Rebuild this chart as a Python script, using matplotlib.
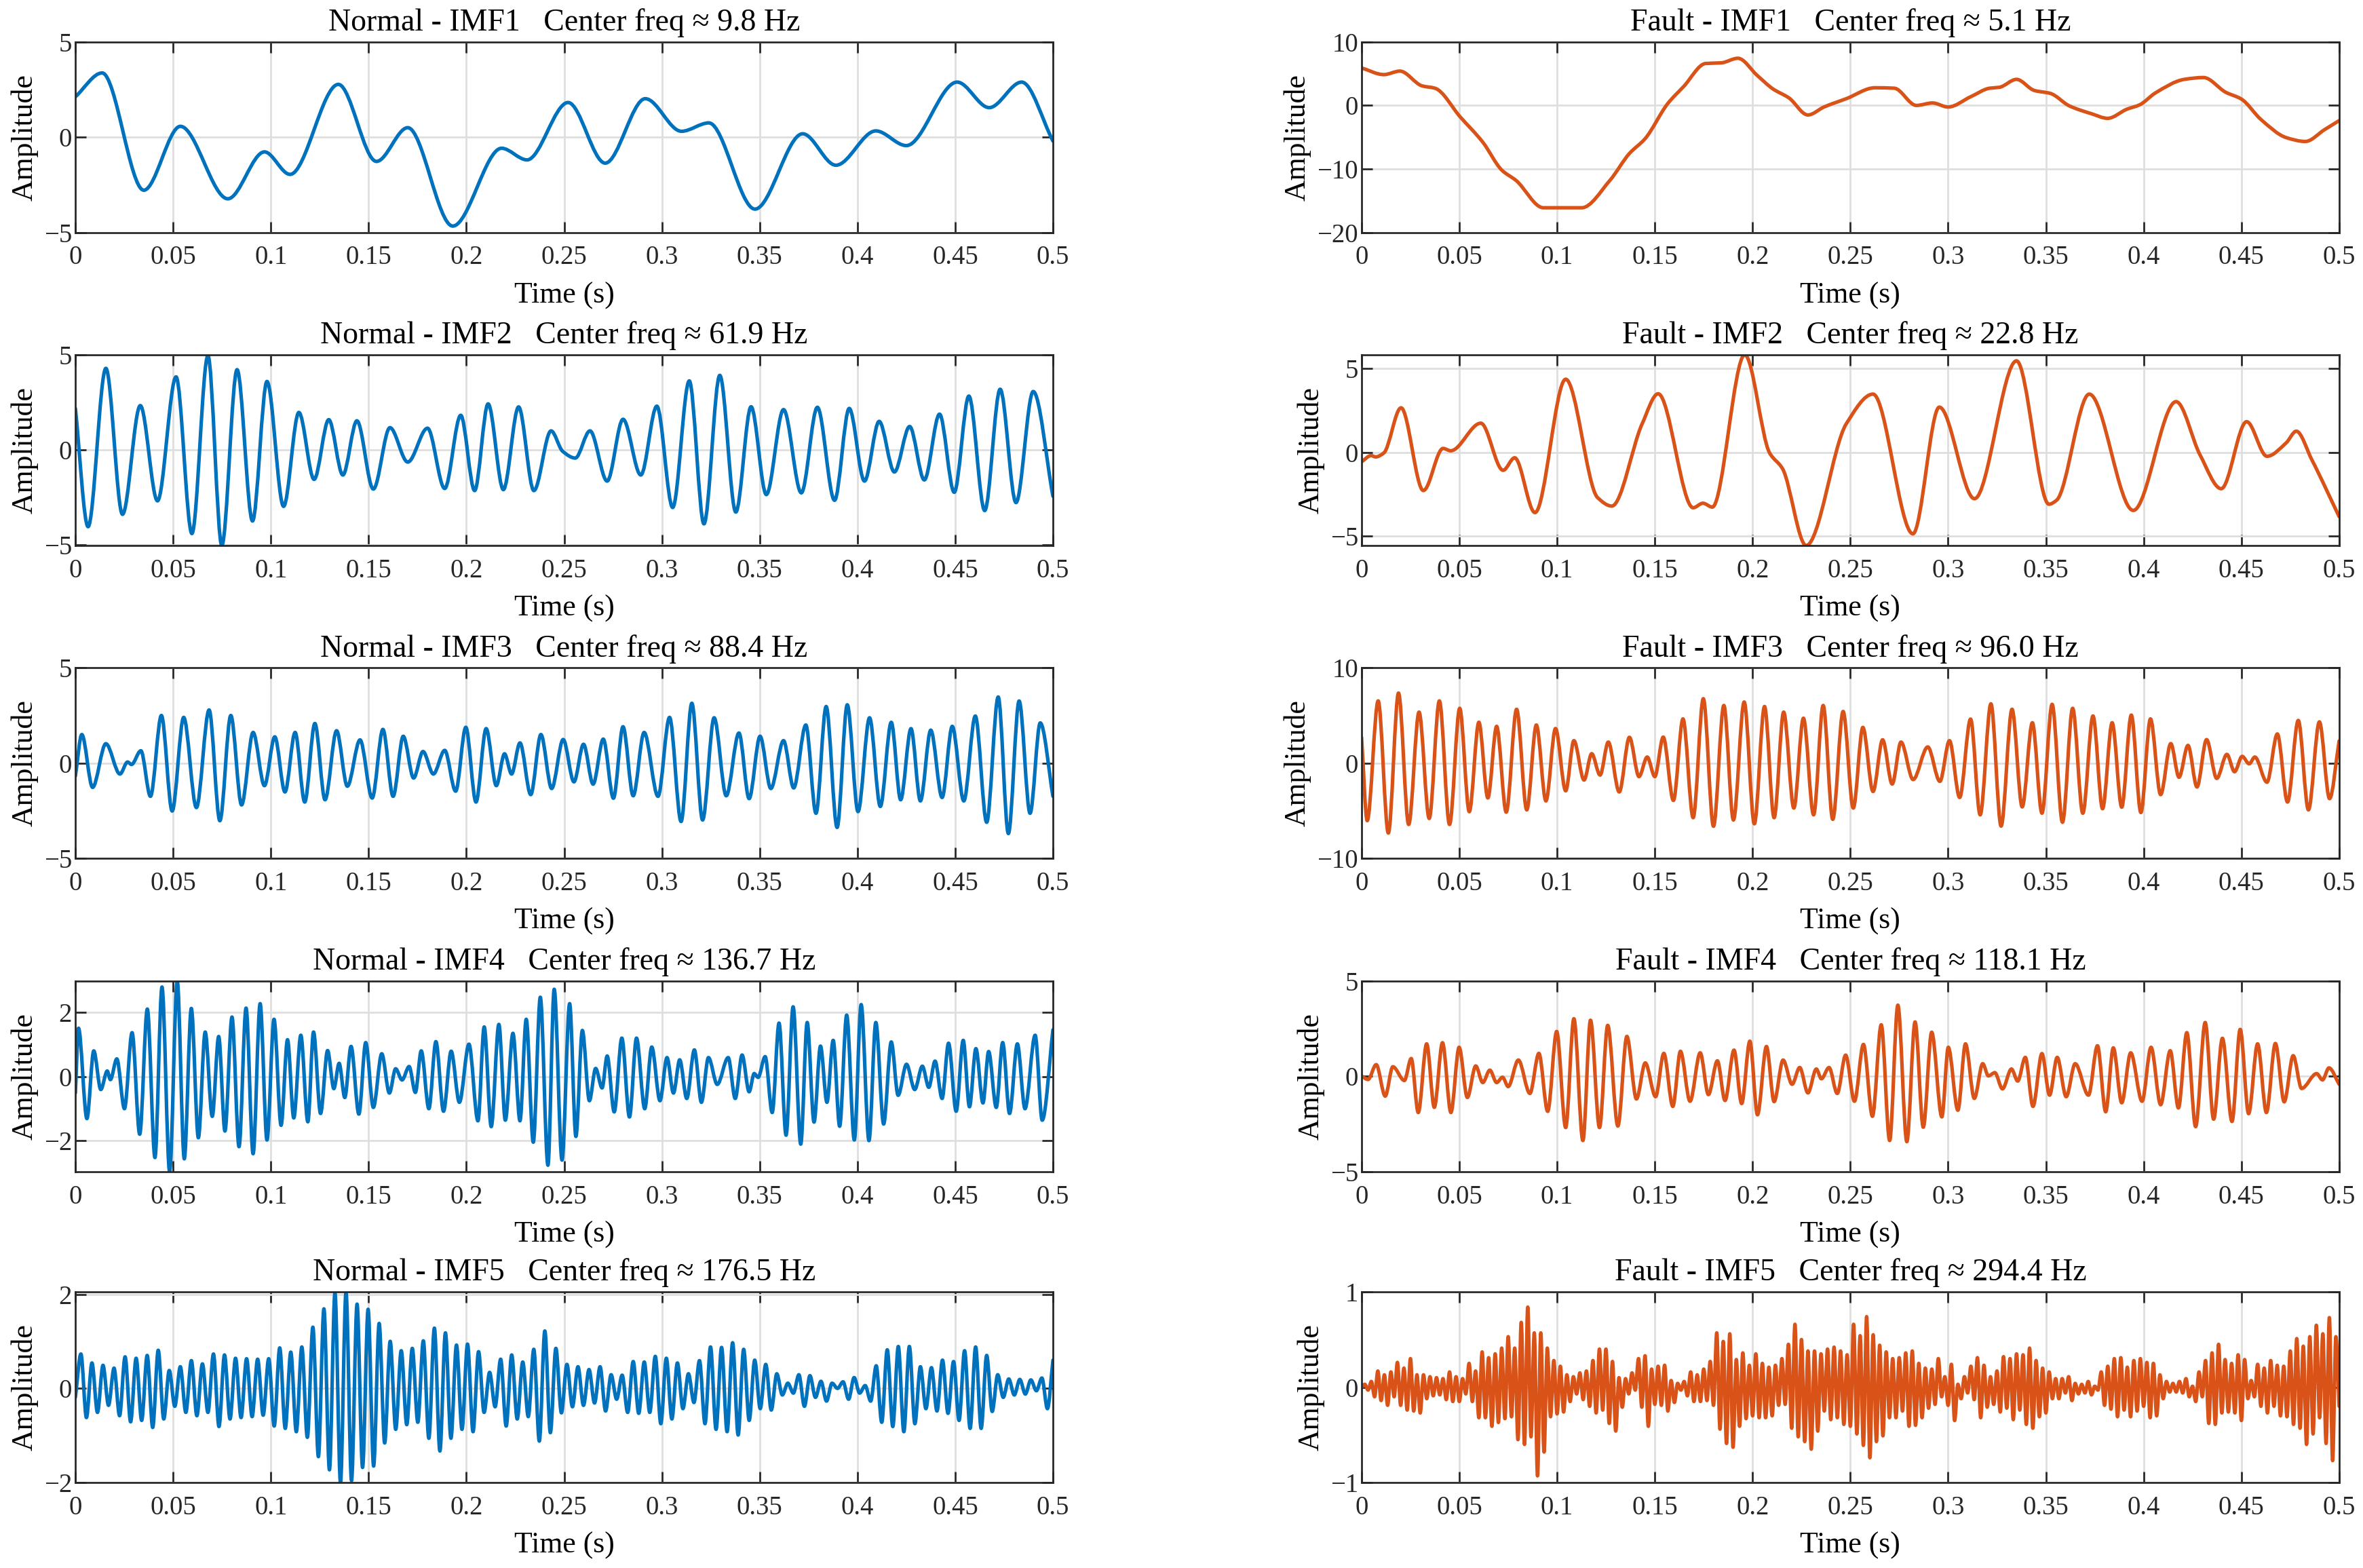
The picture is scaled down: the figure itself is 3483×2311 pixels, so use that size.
"""VMD decomposition figure: IMF1-IMF5 of normal vs fault signals."""

import numpy as np
import matplotlib
matplotlib.use("Agg")
import matplotlib.pyplot as plt
from matplotlib.path import Path
from matplotlib.patches import PathPatch

plt.rcParams["font.family"] = ["Liberation Serif", "DejaVu Serif"]
plt.rcParams["axes.unicode_minus"] = True

# Waveform extrema: (time [s], amplitude) pairs per IMF
n1_t = [0, 0.0137, 0.035, 0.0537, 0.078, 0.0967, 0.1098, 0.1345, 0.154, 0.170, 0.193, 0.218, 0.231, 0.252,
        0.271, 0.2915, 0.310, 0.324, 0.3476, 0.372, 0.389, 0.4094, 0.425, 0.451, 0.4674, 0.484, 0.5]
n1_v = [2.12, 3.37, -2.78, 0.57, -3.23, -0.77, -1.95, 2.77, -1.27, 0.50, -4.66, -0.58, -1.19, 1.82,
        -1.36, 2.02, 0.31, 0.75, -3.77, 0.18, -1.47, 0.33, -0.44, 2.89, 1.55, 2.89, -0.2]

f1_t = [0, 0.0114, 0.0196, 0.031, 0.0375, 0.0506, 0.062, 0.0718, 0.079, 0.093, 0.1126, 0.127, 0.137, 0.145,
        0.1566, 0.1647, 0.176, 0.184, 0.1925, 0.2023, 0.2104, 0.2186, 0.2283, 0.2365, 0.248, 0.2626, 0.2724,
        0.2838, 0.292, 0.300, 0.3115, 0.3213, 0.3262, 0.335, 0.3441, 0.3523, 0.362, 0.3735, 0.3816, 0.3914,
        0.398, 0.406, 0.4208, 0.4306, 0.442, 0.450, 0.460, 0.473, 0.4827, 0.4925, 0.5]
f1_v = [5.9, 4.85, 5.4, 3.07, 2.71, -1.86, -5.78, -10.2, -11.8, -16.1, -16.1, -11.8, -7.56, -5.24,
        0.29, 2.96, 6.6, 6.7, 7.42, 4.74, 2.6, 1.18, -1.5, -0.25, 1.07, 2.78, 2.71,
        0.0, 0.39, -0.25, 1.36, 2.71, 2.85, 4.1, 2.35, 1.89, -0.07, -1.32, -2.03, -0.6,
        0.1, 1.96, 4.1, 4.39, 2.07, 1.0, -2.21, -5.07, -5.67, -3.82, -2.39]

n2_t = [0, 0.0065, 0.0156, 0.0241, 0.0332, 0.0420, 0.0515, 0.0596, 0.0678, 0.0749, 0.0827, 0.0906, 0.0980,
        0.1065, 0.1143, 0.1221, 0.1296, 0.1368, 0.1440, 0.1524, 0.1609, 0.1700, 0.1801, 0.1889, 0.1971,
        0.2042, 0.2111, 0.2189, 0.2267, 0.2345, 0.2433, 0.2492, 0.2557, 0.2632, 0.2720, 0.2801, 0.2892,
        0.2974, 0.3055, 0.3140, 0.3215, 0.3296, 0.3378, 0.3456, 0.3534, 0.3622, 0.3713, 0.3795, 0.3883,
        0.3958, 0.4036, 0.4111, 0.4189, 0.4267, 0.4342, 0.4420, 0.4495, 0.4570, 0.4651, 0.4730, 0.4811,
        0.4899, 0.5]
n2_v = [2.18, -4.04, 4.29, -3.39, 2.33, -2.68, 3.84, -4.40, 4.96, -5.03, 4.22, -3.74, 3.60,
        -2.97, 1.97, -1.55, 1.59, -1.32, 1.53, -2.06, 1.17, -0.64, 1.14, -2.03, 1.82,
        -2.14, 2.42, -2.09, 2.26, -2.14, 1.0, -0.07, -0.43, 1.0, -1.64, 1.61, -1.32,
        2.30, -3.03, 3.63, -3.89, 3.92, -3.27, 2.27, -2.35, 2.12, -2.26, 2.24, -2.65,
        2.18, -1.64, 1.50, -1.16, 1.23, -1.58, 1.88, -2.23, 2.83, -3.19, 3.19, -2.77,
        3.07, -2.44]

f2_t = [0, 0.0049, 0.0072, 0.0114, 0.0202, 0.0316, 0.0417, 0.0456, 0.061, 0.0724, 0.0783, 0.0887, 0.1044,
        0.1207, 0.128, 0.1435, 0.1517, 0.1696, 0.1746, 0.1794, 0.196, 0.2087, 0.2153, 0.2274, 0.2479,
        0.2616, 0.282, 0.2955, 0.3135, 0.335, 0.3516, 0.3555, 0.3722, 0.3947, 0.4166, 0.4289, 0.4397,
        0.4527, 0.4631, 0.4729, 0.4781, 0.486, 0.5]
f2_v = [-0.57, -0.2, -0.28, -0.04, 2.66, -2.29, 0.23, 0.09, 1.74, -1.08, -0.33, -3.61, 4.37,
        -2.71, -3.22, 1.70, 3.5, -3.32, -3.05, -3.28, 5.83, -0.04, -0.98, -5.58, 1.7,
        3.48, -4.88, 2.7, -2.78, 5.47, -3.11, -2.87, 3.48, -3.48, 3.03, -0.17, -2.18,
        1.83, -0.24, 0.56, 1.26, -0.44, -3.85]

n3_t = [0, 0.0033, 0.0088, 0.0156, 0.0228, 0.0267, 0.0287, 0.0335, 0.0384, 0.0440, 0.0495, 0.0554, 0.0619,
        0.0684, 0.0739, 0.0795, 0.0850, 0.0909, 0.0967, 0.1020, 0.1072, 0.1124, 0.1173, 0.1225, 0.1277,
        0.1336, 0.1391, 0.1456, 0.1518, 0.1573, 0.1625, 0.1677, 0.1730, 0.1778, 0.1831, 0.1889, 0.1945,
        0.1997, 0.2049, 0.2101, 0.2153, 0.2195, 0.2231, 0.2274, 0.2329, 0.2381, 0.2436, 0.2495, 0.2550,
        0.2599, 0.2648, 0.2700, 0.2752, 0.2801, 0.2853, 0.2909, 0.2980, 0.3039, 0.3098, 0.3153, 0.3208,
        0.3267, 0.3329, 0.3394, 0.3446, 0.3502, 0.3557, 0.3622, 0.3674, 0.3736, 0.3788, 0.3840, 0.3896,
        0.3948, 0.4003, 0.4062, 0.4117, 0.4173, 0.4221, 0.4274, 0.4322, 0.4375, 0.4433, 0.4485, 0.4544,
        0.4603, 0.4661, 0.4720, 0.4772, 0.4827, 0.4883, 0.4935, 0.5]
n3_v = [-0.68, 1.50, -1.27, 1.02, -0.57, 0.06, -0.07, 0.65, -1.74, 2.50, -2.51, 2.40, -2.33,
        2.79, -3.02, 2.50, -2.19, 1.61, -1.18, 1.38, -1.51, 1.61, -2.04, 2.08, -1.92,
        1.70, -1.21, 1.22, -1.83, 1.77, -1.74, 1.41, -0.78, 0.61, -0.57, 0.67, -1.47,
        1.88, -2.04, 1.81, -1.18, 0.49, -0.57, 1.06, -1.65, 1.50, -1.33, 1.24, -0.98,
        0.99, -1.10, 1.26, -1.84, 1.91, -1.71, 1.61, -1.74, 2.40, -3.06, 3.14, -2.98,
        2.38, -1.71, 1.58, -1.86, 1.41, -1.33, 1.18, -1.30, 2.00, -2.63, 2.97, -3.37,
        3.06, -2.54, 2.38, -2.27, 2.14, -1.92, 1.81, -1.98, 1.73, -1.80, 1.93, -1.98,
        2.47, -3.10, 3.47, -3.69, 3.26, -2.63, 2.11, -1.74]

f3_t = [0, 0.0029, 0.0085, 0.0137, 0.0189, 0.0241, 0.0294, 0.0346, 0.0398, 0.0450, 0.0502, 0.0551, 0.0600,
        0.0646, 0.0691, 0.0740, 0.0793, 0.0845, 0.0894, 0.0943, 0.0992, 0.1044, 0.1086, 0.1138, 0.1177,
        0.1220, 0.1262, 0.1318, 0.1370, 0.1419, 0.1461, 0.1500, 0.1543, 0.1595, 0.1644, 0.1696, 0.1748,
        0.1800, 0.1853, 0.1902, 0.1957, 0.2009, 0.2061, 0.2110, 0.2159, 0.2211, 0.2260, 0.2312, 0.2361,
        0.2410, 0.2463, 0.2515, 0.2564, 0.2616, 0.2665, 0.2714, 0.2759, 0.2821, 0.2896, 0.2958, 0.3007,
        0.3059, 0.3115, 0.3164, 0.3219, 0.3271, 0.3327, 0.3379, 0.3431, 0.3480, 0.3532, 0.3585, 0.3637,
        0.3689, 0.3741, 0.3790, 0.3839, 0.3888, 0.3937, 0.3986, 0.4035, 0.4087, 0.4139, 0.4181, 0.4227,
        0.4273, 0.4322, 0.4374, 0.4426, 0.4465, 0.4504, 0.4540, 0.4569, 0.4631, 0.4684, 0.4736, 0.4791,
        0.4843, 0.4899, 0.4951, 0.5]
f3_v = [2.69, -6.03, 6.53, -7.33, 7.35, -6.43, 5.35, -5.80, 6.53, -6.43, 5.75, -5.09, 4.29,
        -3.65, 3.86, -5.14, 5.65, -4.90, 4.00, -3.96, 3.63, -2.90, 2.36, -1.77, 0.99,
        -1.25, 2.21, -3.02, 2.71, -1.41, 0.64, -1.41, 2.73, -3.91, 4.64, -5.72, 6.76,
        -6.62, 6.05, -5.96, 6.41, -6.36, 5.94, -5.72, 5.35, -4.71, 4.71, -5.42, 6.05,
        -5.89, 5.42, -4.71, 3.75, -2.97, 2.45, -2.19, 2.21, -1.72, 1.70, -1.91, 2.36,
        -3.60, 4.62, -5.42, 6.22, -6.60, 5.65, -4.59, 4.24, -5.25, 6.17, -6.20, 5.75,
        -5.25, 4.95, -4.78, 4.24, -4.62, 5.04, -5.18, 4.64, -3.30, 2.05, -1.48, 1.86,
        -2.50, 2.47, -1.60, 0.92, -0.90, 0.71, -0.07, 0.64, -2.00, 3.06, -4.08, 4.48,
        -4.90, 4.33, -3.72, 2.33]

n4_t = [0, 0.0016, 0.0059, 0.0094, 0.0130, 0.0163, 0.0179, 0.0212, 0.0251, 0.0290, 0.0329, 0.0368, 0.0407,
        0.0443, 0.0482, 0.0521, 0.0557, 0.0593, 0.0629, 0.0664, 0.0700, 0.0733, 0.0765, 0.0801, 0.0837,
        0.0873, 0.0909, 0.0945, 0.0980, 0.1016, 0.1052, 0.1085, 0.1117, 0.1153, 0.1189, 0.1218, 0.1254,
        0.1290, 0.1322, 0.1349, 0.1378, 0.1410, 0.1450, 0.1485, 0.1524, 0.1567, 0.1606, 0.1638, 0.1671,
        0.1707, 0.1739, 0.1769, 0.1808, 0.1844, 0.1883, 0.1922, 0.1964, 0.2013, 0.2059, 0.2091, 0.2127,
        0.2166, 0.2199, 0.2238, 0.2274, 0.2306, 0.2342, 0.2378, 0.2417, 0.2449, 0.2489, 0.2528, 0.2560,
        0.2593, 0.2629, 0.2661, 0.2694, 0.2720, 0.2756, 0.2795, 0.2834, 0.2870, 0.2912, 0.2948, 0.2990,
        0.3026, 0.3059, 0.3091, 0.3127, 0.3166, 0.3202, 0.3238, 0.3283, 0.3339, 0.3375, 0.3410, 0.3446,
        0.3472, 0.3492, 0.3528, 0.3564, 0.3599, 0.3635, 0.3671, 0.3710, 0.3743, 0.3778, 0.3811, 0.3844,
        0.3876, 0.3909, 0.3945, 0.3984, 0.4019, 0.4059, 0.4094, 0.4134, 0.4173, 0.4208, 0.4251, 0.4293,
        0.4332, 0.4365, 0.4397, 0.4433, 0.4466, 0.4505, 0.4541, 0.4573, 0.4606, 0.4642, 0.4671, 0.4710,
        0.4743, 0.4778, 0.4818, 0.4857, 0.4909, 0.4945, 0.5]
n4_v = [-0.52, 1.51, -1.32, 0.80, -0.41, 0.17, -0.10, 0.55, -1.01, 1.37, -1.81, 2.11, -2.54,
        2.80, -2.98, 2.99, -2.58, 2.13, -1.92, 1.39, -1.25, 1.25, -1.71, 1.86, -2.20,
        2.14, -2.42, 2.28, -1.99, 1.79, -1.53, 1.15, -1.30, 1.29, -1.42, 1.39, -1.16,
        0.81, -0.38, 0.41, -0.66, 0.94, -1.18, 1.06, -0.97, 0.71, -0.52, 0.24, -0.11,
        0.31, -0.50, 0.80, -1.01, 1.09, -1.09, 0.79, -0.81, 1.01, -1.39, 1.55, -1.57,
        1.63, -1.37, 1.35, -1.39, 1.79, -2.06, 2.48, -2.78, 2.73, -2.62, 2.28, -1.88,
        1.44, -0.76, 0.25, -0.36, 0.64, -1.11, 1.20, -1.27, 1.20, -1.01, 0.92, -0.76,
        0.59, -0.52, 0.52, -0.69, 0.83, -0.81, 0.59, -0.25, 0.59, -0.69, 0.67, -0.48,
        0.09, -0.03, 0.62, -1.13, 1.67, -1.84, 2.18, -2.12, 1.69, -1.43, 0.95, -0.81,
        1.13, -1.56, 1.92, -1.99, 2.25, -2.01, 1.69, -1.49, 1.08, -0.59, 0.38, -0.41,
        0.32, -0.34, 0.48, -0.69, 1.04, -1.09, 1.13, -0.95, 0.87, -0.83, 0.78, -0.97,
        1.06, -1.16, 1.02, -1.01, 1.29, -1.37, 1.46]

f4_t = [0, 0.0033, 0.0075, 0.0121, 0.0160, 0.0219, 0.0254, 0.0290, 0.0333, 0.0372, 0.0414, 0.0457, 0.0499,
        0.0541, 0.0584, 0.0620, 0.0656, 0.0691, 0.0721, 0.0750, 0.0802, 0.0861, 0.0907, 0.0952, 0.0998,
        0.1044, 0.1086, 0.1132, 0.1171, 0.1217, 0.1259, 0.1311, 0.1357, 0.1406, 0.1451, 0.1504, 0.1546,
        0.1592, 0.1631, 0.1680, 0.1732, 0.1774, 0.1820, 0.1859, 0.1905, 0.1944, 0.1986, 0.2025, 0.2071,
        0.2110, 0.2156, 0.2202, 0.2241, 0.2283, 0.2326, 0.2352, 0.2391, 0.2433, 0.2476, 0.2521, 0.2567,
        0.2613, 0.2658, 0.2701, 0.2743, 0.2789, 0.2831, 0.2873, 0.2916, 0.2968, 0.3001, 0.3050, 0.3089,
        0.3134, 0.3177, 0.3206, 0.3239, 0.3278, 0.3324, 0.3356, 0.3395, 0.3434, 0.3480, 0.3519, 0.3558,
        0.3604, 0.3650, 0.3718, 0.3764, 0.3806, 0.3845, 0.3888, 0.3934, 0.3992, 0.4038, 0.4087, 0.4136,
        0.4178, 0.4221, 0.4266, 0.4315, 0.4358, 0.4403, 0.4452, 0.4494, 0.4537, 0.4583, 0.4628, 0.4674,
        0.4719, 0.4765, 0.4808, 0.4885, 0.4915, 0.4948, 0.5]
f4_v = [0.02, -0.17, 0.61, -1.04, 0.50, -0.22, 0.93, -1.90, 1.70, -1.63, 1.76, -1.90, 1.52,
        -1.11, 0.54, -0.33, 0.32, -0.33, -0.05, -0.54, 0.85, -0.90, 1.20, -1.84, 2.35,
        -2.69, 3.02, -3.37, 2.94, -2.69, 2.67, -2.61, 2.09, -1.19, 0.70, -1.07, 1.20,
        -1.58, 1.31, -1.31, 1.23, -0.96, 0.81, -1.27, 1.37, -1.43, 1.84, -2.02, 1.56,
        -1.33, 0.85, -0.42, 0.46, -0.87, 0.38, -0.13, 0.46, -0.90, 1.11, -1.31, 1.67,
        -2.10, 2.70, -3.37, 3.73, -3.43, 2.85, -2.67, 2.31, -2.13, 1.52, -1.78, 1.70,
        -1.16, 0.66, 0.02, 0.19, -0.66, 0.38, -0.25, 0.99, -1.58, 1.19, -0.99, 0.99,
        -1.07, 0.66, -0.99, 1.60, -1.86, 1.49, -1.39, 1.23, -1.31, 1.52, -1.49, 1.34,
        -1.66, 2.29, -2.64, 2.82, -2.25, 1.99, -2.37, 2.46, -1.96, 1.70, -1.90, 1.72,
        -1.34, 1.08, -0.64, 0.14, -0.19, 0.44, -0.42]

# IMF5: successive extrema (alternating), read at roughly regular spacing
n5_v = [-0.19, 0.73, -0.62, 0.54, -0.51, 0.49, -0.36, 0.43, -0.58, 0.67, -0.71, 0.64, -0.68, 0.70, -0.83,
        0.81, -0.65, 0.38, -0.38, 0.46, -0.51, 0.59, -0.58, 0.52, -0.51, 0.73, -0.81, 0.71, -0.65, 0.64,
        -0.62, 0.63, -0.60, 0.62, -0.57, 0.63, -0.80, 0.86, -0.85, 0.77, -0.92, 0.88, -1.04, 1.30, -1.45,
        1.69, -1.73, 2.03, -2.00, 2.05, -1.96, 1.79, -1.68, 1.68, -1.65, 1.38, -1.16, 1.00, -0.87, 0.80,
        -0.77, 0.85, -0.72, 1.01, -1.06, 1.28, -1.33, 1.18, -1.06, 0.92, -0.87, 0.94, -0.92, 0.78, -0.51,
        0.34, -0.39, 0.62, -0.80, 0.71, -0.65, 0.56, -0.60, 0.83, -1.12, 1.22, -0.94, 0.85, -0.52, 0.51,
        -0.39, 0.46, -0.36, 0.40, -0.31, 0.46, -0.48, 0.29, -0.23, 0.28, -0.51, 0.57, -0.53, 0.56, -0.51,
        0.68, -0.75, 0.64, -0.65, 0.54, -0.43, 0.31, -0.30, 0.59, -0.75, 0.88, -0.87, 0.87, -0.92, 0.97,
        -0.99, 0.83, -0.68, 0.60, -0.43, 0.51, -0.46, 0.31, -0.14, 0.11, -0.10, 0.29, -0.38, 0.27, -0.19,
        0.15, -0.27, 0.11, 0.0, 0.14, -0.23, 0.23, -0.10, 0.06, -0.27, 0.48, -0.72, 0.82, -0.81, 0.89,
        -0.92, 0.89, -0.75, 0.46, -0.43, 0.44, -0.48, 0.60, -0.53, 0.57, -0.68, 0.80, -0.85, 0.88, -0.85,
        0.70, -0.49, 0.29, -0.19, 0.20, -0.14, 0.19, -0.12, 0.18, -0.05, 0.22, -0.43, 0.60]

f5_peaks = [0.03, 0.06, 0.17, 0.13, 0.16, 0.26, 0.20, 0.30, 0.13, 0.13, 0.11, 0.10, 0.09, 0.16, 0.11,
            0.09, 0.25, 0.17, 0.37, 0.31, 0.35, 0.41, 0.53, 0.41, 0.68, 0.84, 0.57, 0.57, 0.41, 0.28,
            0.22, 0.13, 0.11, 0.15, 0.17, 0.28, 0.40, 0.40, 0.27, 0.10, 0.09, 0.15, 0.30, 0.33, 0.19,
            0.22, 0.23, 0.07, 0.04, 0.06, 0.16, 0.13, 0.19, 0.27, 0.57, 0.48, 0.56, 0.29, 0.36, 0.23,
            0.35, 0.25, 0.21, 0.23, 0.30, 0.45, 0.66, 0.50, 0.38, 0.38, 0.35, 0.40, 0.42, 0.38, 0.34,
            0.66, 0.54, 0.74, 0.55, 0.44, 0.37, 0.30, 0.31, 0.36, 0.38, 0.25, 0.20, 0.19, 0.30, 0.11,
            0.24, 0.03, 0.11, 0.22, 0.31, 0.23, 0.11, 0.17, 0.32, 0.30, 0.35, 0.34, 0.41, 0.28, 0.20,
            0.16, 0.09, 0.09, 0.11, 0.04, 0.03, 0.06, 0.01, 0.16, 0.22, 0.30, 0.31, 0.21, 0.28, 0.30,
            0.26, 0.25, 0.13, 0.06, 0.04, 0.06, 0.09, 0.01, 0.16, 0.28, 0.36, 0.45, 0.29, 0.25, 0.34,
            0.29, 0.07, 0.24, 0.20, 0.28, 0.23, 0.22, 0.38, 0.51, 0.43, 0.53, 0.65, 0.56, 0.73, 0.53]
f5_troughs = [-0.03, -0.10, -0.14, -0.19, -0.10, -0.19, -0.24, -0.25, -0.27, -0.12, -0.09, -0.08,
              -0.13, -0.15, -0.15, -0.07, -0.15, -0.32, -0.32, -0.41, -0.37, -0.33, -0.31, -0.55,
              -0.60, -0.52, -0.93, -0.68, -0.31, -0.28, -0.26, -0.15, -0.07, -0.13, -0.20, -0.27,
              -0.24, -0.38, -0.46, -0.21, -0.07, -0.03, -0.21, -0.41, -0.18, -0.19, -0.25, -0.16,
              -0.03, -0.09, -0.15, -0.15, -0.14, -0.19, -0.44, -0.59, -0.63, -0.41, -0.33, -0.30,
              -0.32, -0.32, -0.30, -0.19, -0.18, -0.43, -0.52, -0.57, -0.65, -0.46, -0.25, -0.34,
              -0.32, -0.39, -0.41, -0.49, -0.61, -0.74, -0.57, -0.51, -0.32, -0.32, -0.25, -0.41,
              -0.40, -0.32, -0.22, -0.18, -0.10, -0.19, -0.35, -0.12, -0.06, -0.13, -0.32, -0.21,
              -0.18, -0.26, -0.22, -0.34, -0.24, -0.39, -0.43, -0.31, -0.27, -0.12, -0.12, -0.06,
              -0.14, -0.07, -0.06, -0.08, -0.03, -0.19, -0.23, -0.31, -0.24, -0.31, -0.25, -0.20,
              -0.32, -0.30, -0.12, -0.05, -0.05, -0.06, -0.10, -0.15, -0.10, -0.38, -0.39, -0.27,
              -0.26, -0.27, -0.35, -0.12, -0.10, -0.20, -0.27, -0.20, -0.30, -0.31, -0.39, -0.43,
              -0.60, -0.49, -0.32, -0.59, -0.77, -0.20]

center_freq_normal = ["9.8", "61.9", "88.4", "136.7", "176.5"]
center_freq_fault = ["5.1", "22.8", "96.0", "118.1", "294.4"]

x_ticks = [0, 0.05, 0.1, 0.15, 0.2, 0.25, 0.3, 0.35, 0.4, 0.45, 0.5]
x_tick_labels = ["0", "0.05", "0.1", "0.15", "0.2", "0.25", "0.3", "0.35", "0.4", "0.45", "0.5"]

blue = "#0072BD"
orange = "#D95319"
dark = "#262626"


def hermite_path(t, v):
    """Smooth monotone cubic through the read extrema, drawn as Bezier segments."""
    t = np.asarray(t, float)
    v = np.asarray(v, float)
    h = np.diff(t)
    d = np.diff(v) / h
    m = np.zeros_like(v)
    m[0] = d[0]
    m[-1] = d[-1]
    for k in range(1, len(v) - 1):
        if d[k - 1] * d[k] > 0:
            w1 = 2 * h[k] + h[k - 1]
            w2 = h[k] + 2 * h[k - 1]
            m[k] = (w1 + w2) / (w1 / d[k - 1] + w2 / d[k])
    verts = [(t[0], v[0])]
    codes = [Path.MOVETO]
    for k in range(len(h)):
        verts += [(t[k] + h[k] / 3, v[k] + m[k] * h[k] / 3),
                  (t[k + 1] - h[k] / 3, v[k + 1] - m[k + 1] * h[k] / 3),
                  (t[k + 1], v[k + 1])]
        codes += [Path.CURVE4] * 3
    return Path(verts, codes)


n5_t = np.linspace(0, 0.5, len(n5_v))
f5_v = [0.0] + [x for pair in zip(f5_peaks, f5_troughs) for x in pair]
f5_t = np.linspace(0, 0.5, len(f5_v))

normal = [(n1_t, n1_v, (-5, 5), [-5, 0, 5]),
          (n2_t, n2_v, (-5.03, 5.0), [-5, 0, 5]),
          (n3_t, n3_v, (-5, 5), [-5, 0, 5]),
          (n4_t, n4_v, (-2.98, 2.99), [-2, 0, 2]),
          (n5_t, n5_v, (-2.0, 2.05), [-2, 0, 2])]
fault = [(f1_t, f1_v, (-20, 10), [-20, -10, 0, 10]),
         (f2_t, f2_v, (-5.58, 5.83), [-5, 0, 5]),
         (f3_t, f3_v, (-10, 10), [-10, 0, 10]),
         (f4_t, f4_v, (-5, 5), [-5, 0, 5]),
         (f5_t, f5_v, (-1, 1), [-1, 0, 1])]

fig = plt.figure(figsize=(3483 / 300, 2311 / 300), dpi=300)

lefts = [0.0319, 0.5762]
bottoms = [0.8517, 0.6521, 0.4525, 0.2528, 0.0545]
width = 0.4137
height = 0.1216

for col, (rows, freqs, label, color) in enumerate([(normal, center_freq_normal, "Normal", blue),
                                                   (fault, center_freq_fault, "Fault", orange)]):
    for i, (t, v, ylim, yticks) in enumerate(rows):
        ax = fig.add_axes([lefts[col], bottoms[i], width, height])
        patch = PathPatch(hermite_path(t, v), fill=False, edgecolor=color, linewidth=1.25,
                          capstyle="round", joinstyle="round", zorder=2)
        ax.add_patch(patch)
        ax.set_xlim(0, 0.5)
        ax.set_ylim(*ylim)
        ax.set_xticks(x_ticks)
        ax.set_xticklabels(x_tick_labels)
        ax.set_yticks(yticks)
        ax.grid(True, color="#dedede", linewidth=0.65)
        ax.tick_params(direction="in", length=3.8, width=0.65, top=True, right=True,
                       labelsize=9.3, color=dark, labelcolor=dark)
        ax.tick_params(axis="x", pad=4.5)
        ax.tick_params(axis="y", pad=1.2)
        for s in ax.spines.values():
            s.set_linewidth(0.65)
            s.set_color(dark)
        ax.set_xlabel("Time (s)", fontsize=10.5, labelpad=4)
        ax.set_ylabel("Amplitude", fontsize=10.5, labelpad=2)
        ax.set_title(f"{label} - IMF{i + 1}   Center freq \u2248 {freqs[i]} Hz", fontsize=11, pad=4)

fig.savefig("out.png", dpi=300)
